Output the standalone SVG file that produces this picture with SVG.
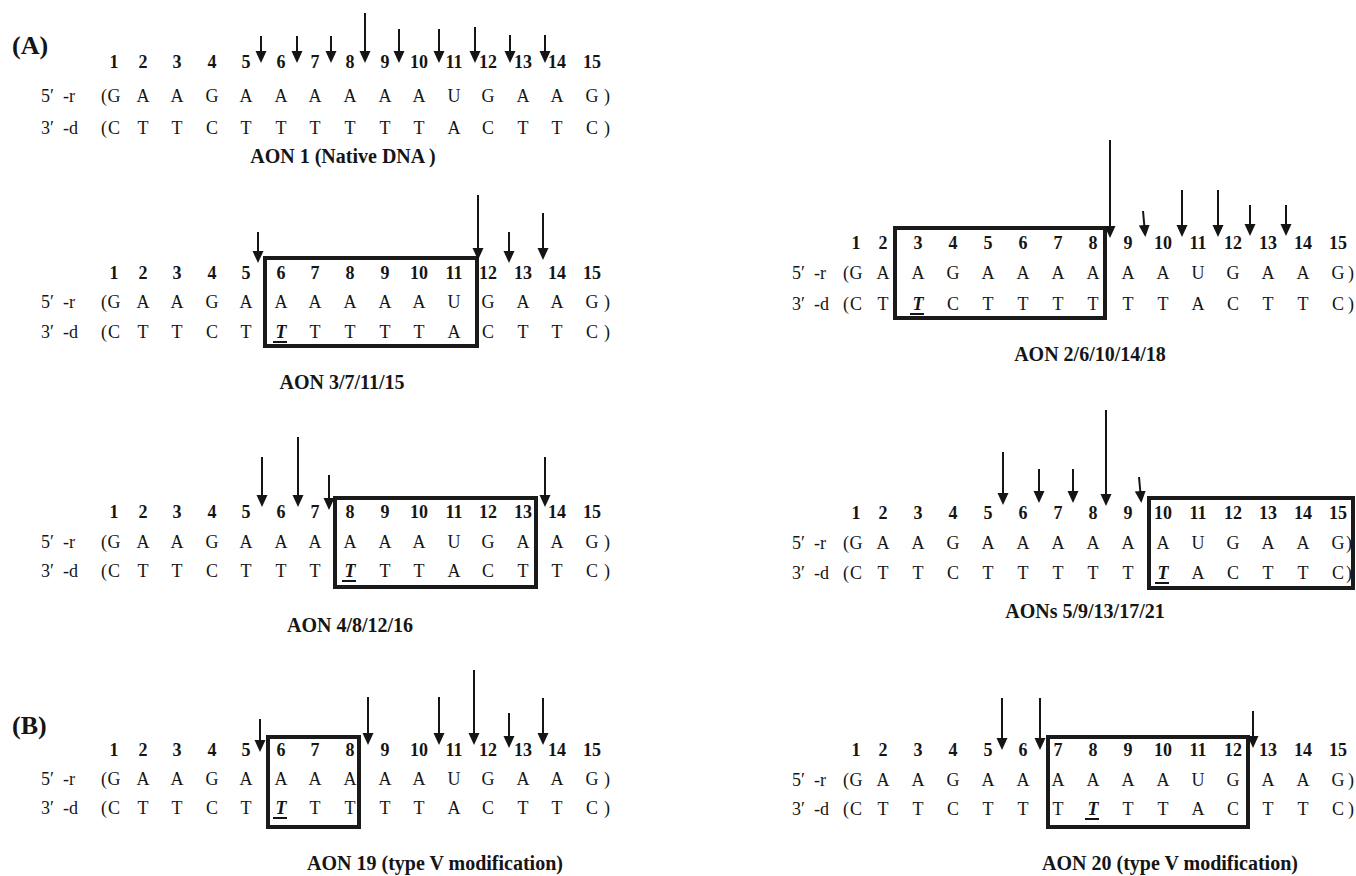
<svg xmlns="http://www.w3.org/2000/svg" width="1356" height="876" viewBox="0 0 1356 876">
<style>
text { font-family: "Liberation Serif", "Times New Roman", serif; fill: #151515; }
.n { font-size: 18px; font-weight: bold; text-anchor: middle; }
.s { font-size: 18px; text-anchor: middle; }
.lb { font-size: 18px; }
.cap { font-size: 20px; font-weight: bold; text-anchor: middle; }
.pn { font-size: 26px; font-weight: bold; }
.it { font-style: italic; font-weight: bold; }
.box { fill: none; stroke: #1a1a1a; stroke-width: 4; }
.ul { stroke: #151515; stroke-width: 2; }
.arr { stroke: #151515; stroke-width: 2; fill: none; marker-end: url(#ah); }
</style>
<defs>
<marker id="ah" viewBox="0 0 12 12" refX="8" refY="6" markerWidth="12" markerHeight="12" markerUnits="userSpaceOnUse" orient="auto">
<path d="M0,0.5 L12,6 L0,11.5 z" fill="#151515"/>
</marker>
</defs>
<rect width="1356" height="876" fill="#ffffff"/>

<text class="pn" x="12" y="54">(A)</text>
<text class="pn" x="12" y="734">(B)</text>

<!-- AON 1 -->
<g id="aon1">
<text class="n" y="68"><tspan x="114">1</tspan><tspan x="143">2</tspan><tspan x="177">3</tspan><tspan x="212">4</tspan><tspan x="246">5</tspan><tspan x="281">6</tspan><tspan x="315">7</tspan><tspan x="350">8</tspan><tspan x="385">9</tspan><tspan x="419">10</tspan><tspan x="454">11</tspan><tspan x="488">12</tspan><tspan x="523">13</tspan><tspan x="557">14</tspan><tspan x="592">15</tspan></text>
<text class="lb" x="41" y="102">5′<tspan x="63">-r</tspan></text>
<text class="lb" x="41" y="134">3′<tspan x="63">-d</tspan></text>
<text class="s" y="102" x="104 114 143 177 212 246 281 315 350 385 419 454 488 523 557 592 607">(GAAGAAAAAAUGAAG)</text>
<text class="s" y="134" x="104 114 143 177 212 246 281 315 350 385 419 454 488 523 557 592 607">(CTTCTTTTTTACTTC)</text>
<text class="cap" x="343" y="163">AON 1 (Native DNA )</text>
</g>

<!-- AON 3/7/11/15 -->
<g id="aon3">
<text class="n" y="279"><tspan x="114">1</tspan><tspan x="143">2</tspan><tspan x="177">3</tspan><tspan x="212">4</tspan><tspan x="246">5</tspan><tspan x="281">6</tspan><tspan x="315">7</tspan><tspan x="350">8</tspan><tspan x="385">9</tspan><tspan x="419">10</tspan><tspan x="454">11</tspan><tspan x="488">12</tspan><tspan x="523">13</tspan><tspan x="557">14</tspan><tspan x="592">15</tspan></text>
<text class="lb" x="41" y="308">5′<tspan x="63">-r</tspan></text>
<text class="lb" x="41" y="338">3′<tspan x="63">-d</tspan></text>
<text class="s" y="308" x="104 114 143 177 212 246 281 315 350 385 419 454 488 523 557 592 607">(GAAGAAAAAAUGAAG)</text>
<text class="s" y="338" x="104 114 143 177 212 246 281 315 350 385 419 454 488 523 557 592 607">(CTTCT<tspan class="it">T</tspan>TTTTACTTC)</text>
<line class="ul" x1="273" y1="342" x2="287" y2="342"/>
<rect class="box" x="265" y="258" width="212" height="88"/>
<text class="cap" x="342" y="389">AON 3/7/11/15</text>
</g>

<!-- AON 4/8/12/16 -->
<g id="aon4">
<text class="n" y="518"><tspan x="114">1</tspan><tspan x="143">2</tspan><tspan x="177">3</tspan><tspan x="212">4</tspan><tspan x="246">5</tspan><tspan x="281">6</tspan><tspan x="315">7</tspan><tspan x="350">8</tspan><tspan x="385">9</tspan><tspan x="419">10</tspan><tspan x="454">11</tspan><tspan x="488">12</tspan><tspan x="523">13</tspan><tspan x="557">14</tspan><tspan x="592">15</tspan></text>
<text class="lb" x="41" y="548">5′<tspan x="63">-r</tspan></text>
<text class="lb" x="41" y="577">3′<tspan x="63">-d</tspan></text>
<text class="s" y="548" x="104 114 143 177 212 246 281 315 350 385 419 454 488 523 557 592 607">(GAAGAAAAAAUGAAG)</text>
<text class="s" y="577" x="104 114 143 177 212 246 281 315 350 385 419 454 488 523 557 592 607">(CTTCTTT<tspan class="it">T</tspan>TTACTTC)</text>
<line class="ul" x1="342" y1="581" x2="356" y2="581"/>
<rect class="box" x="335" y="498" width="201" height="89"/>
<text class="cap" x="350" y="632">AON 4/8/12/16</text>
</g>

<!-- AON 19 -->
<g id="aon19">
<text class="n" y="756"><tspan x="114">1</tspan><tspan x="143">2</tspan><tspan x="177">3</tspan><tspan x="212">4</tspan><tspan x="246">5</tspan><tspan x="281">6</tspan><tspan x="315">7</tspan><tspan x="350">8</tspan><tspan x="385">9</tspan><tspan x="419">10</tspan><tspan x="454">11</tspan><tspan x="488">12</tspan><tspan x="523">13</tspan><tspan x="557">14</tspan><tspan x="592">15</tspan></text>
<text class="lb" x="41" y="785">5′<tspan x="63">-r</tspan></text>
<text class="lb" x="41" y="814">3′<tspan x="63">-d</tspan></text>
<text class="s" y="785" x="104 114 143 177 212 246 281 315 350 385 419 454 488 523 557 592 607">(GAAGAAAAAAUGAAG)</text>
<text class="s" y="814" x="104 114 143 177 212 246 281 315 350 385 419 454 488 523 557 592 607">(CTTCT<tspan class="it">T</tspan>TTTTACTTC)</text>
<line class="ul" x1="273" y1="818" x2="287" y2="818"/>
<rect class="box" x="268" y="737" width="91" height="90"/>
<text class="cap" x="435" y="870">AON 19 (type V modification)</text>
</g>

<!-- AON 2/6/10/14/18 -->
<g id="aon2">
<text class="n" y="249"><tspan x="856">1</tspan><tspan x="883">2</tspan><tspan x="918">3</tspan><tspan x="953">4</tspan><tspan x="988">5</tspan><tspan x="1023">6</tspan><tspan x="1058">7</tspan><tspan x="1093">8</tspan><tspan x="1128">9</tspan><tspan x="1163">10</tspan><tspan x="1198">11</tspan><tspan x="1233">12</tspan><tspan x="1268">13</tspan><tspan x="1303">14</tspan><tspan x="1338">15</tspan></text>
<text class="lb" x="792" y="279">5′<tspan x="814">-r</tspan></text>
<text class="lb" x="792" y="310">3′<tspan x="814">-d</tspan></text>
<text class="s" y="279" x="846 856 883 918 953 988 1023 1058 1093 1128 1163 1198 1233 1268 1303 1338 1351">(GAAGAAAAAAUGAAG)</text>
<text class="s" y="310" x="846 856 883 918 953 988 1023 1058 1093 1128 1163 1198 1233 1268 1303 1338 1351">(CT<tspan class="it">T</tspan>CTTTTTTACTTC)</text>
<line class="ul" x1="910" y1="314" x2="924" y2="314"/>
<rect class="box" x="895" y="228" width="210" height="90"/>
<text class="cap" x="1090" y="361">AON 2/6/10/14/18</text>
</g>

<!-- AONs 5/9/13/17/21 -->
<g id="aon5">
<text class="n" y="519"><tspan x="856">1</tspan><tspan x="883">2</tspan><tspan x="918">3</tspan><tspan x="953">4</tspan><tspan x="988">5</tspan><tspan x="1023">6</tspan><tspan x="1058">7</tspan><tspan x="1093">8</tspan><tspan x="1128">9</tspan><tspan x="1163">10</tspan><tspan x="1198">11</tspan><tspan x="1233">12</tspan><tspan x="1268">13</tspan><tspan x="1303">14</tspan><tspan x="1338">15</tspan></text>
<text class="lb" x="792" y="549">5′<tspan x="814">-r</tspan></text>
<text class="lb" x="792" y="579">3′<tspan x="814">-d</tspan></text>
<text class="s" y="549" x="846 856 883 918 953 988 1023 1058 1093 1128 1163 1198 1233 1268 1303 1338 1349">(GAAGAAAAAAUGAAG)</text>
<text class="s" y="579" x="846 856 883 918 953 988 1023 1058 1093 1128 1163 1198 1233 1268 1303 1338 1349">(CTTCTTTTT<tspan class="it">T</tspan>ACTTC)</text>
<line class="ul" x1="1155" y1="583" x2="1169" y2="583"/>
<rect class="box" x="1149" y="498" width="204" height="90"/>
<text class="cap" x="1085" y="618">AONs 5/9/13/17/21</text>
</g>

<!-- AON 20 -->
<g id="aon20">
<text class="n" y="756"><tspan x="856">1</tspan><tspan x="883">2</tspan><tspan x="918">3</tspan><tspan x="953">4</tspan><tspan x="988">5</tspan><tspan x="1023">6</tspan><tspan x="1058">7</tspan><tspan x="1093">8</tspan><tspan x="1128">9</tspan><tspan x="1163">10</tspan><tspan x="1198">11</tspan><tspan x="1233">12</tspan><tspan x="1268">13</tspan><tspan x="1303">14</tspan><tspan x="1338">15</tspan></text>
<text class="lb" x="792" y="786">5′<tspan x="814">-r</tspan></text>
<text class="lb" x="792" y="815">3′<tspan x="814">-d</tspan></text>
<text class="s" y="786" x="846 856 883 918 953 988 1023 1058 1093 1128 1163 1198 1233 1268 1303 1338 1351">(GAAGAAAAAAUGAAG)</text>
<text class="s" y="815" x="846 856 883 918 953 988 1023 1058 1093 1128 1163 1198 1233 1268 1303 1338 1351">(CTTCTTT<tspan class="it">T</tspan>TTACTTC)</text>
<line class="ul" x1="1085" y1="819" x2="1099" y2="819"/>
<rect class="box" x="1048" y="737" width="200" height="90"/>
<text class="cap" x="1170" y="870">AON 20 (type V modification)</text>
</g>

<g id="connectors">
<!-- AON 1 -->
<line class="arr" x1="261" y1="36" x2="261" y2="59"/>
<line class="arr" x1="297" y1="36" x2="297" y2="59"/>
<line class="arr" x1="331" y1="36" x2="331" y2="59"/>
<line class="arr" x1="365" y1="13" x2="365" y2="59"/>
<line class="arr" x1="399" y1="29" x2="399" y2="59"/>
<line class="arr" x1="439" y1="29" x2="439" y2="59"/>
<line class="arr" x1="475" y1="27" x2="475" y2="59"/>
<line class="arr" x1="510" y1="35" x2="510" y2="59"/>
<line class="arr" x1="545" y1="35" x2="545" y2="59"/>
<!-- AON 3 -->
<line class="arr" x1="258" y1="232" x2="258" y2="259"/>
<line class="arr" x1="478" y1="195" x2="478" y2="256"/>
<line class="arr" x1="509" y1="232" x2="509" y2="259"/>
<line class="arr" x1="543" y1="213" x2="543" y2="256"/>
<!-- AON 4 -->
<line class="arr" x1="262" y1="457" x2="262" y2="503"/>
<line class="arr" x1="298" y1="437" x2="298" y2="503"/>
<line class="arr" x1="329" y1="475" x2="329" y2="506"/>
<line class="arr" x1="545" y1="457" x2="545" y2="503"/>
<!-- AON 19 -->
<line class="arr" x1="260" y1="719" x2="260" y2="748"/>
<line class="arr" x1="368" y1="697" x2="368" y2="741"/>
<line class="arr" x1="439" y1="697" x2="439" y2="741"/>
<line class="arr" x1="474" y1="670" x2="474" y2="741"/>
<line class="arr" x1="509" y1="713" x2="509" y2="744"/>
<line class="arr" x1="543" y1="698" x2="543" y2="741"/>
<!-- AON 2 -->
<line class="arr" x1="1110" y1="140" x2="1110" y2="234"/>
<line class="arr" x1="1143" y1="211" x2="1145" y2="233"/>
<line class="arr" x1="1182" y1="190" x2="1182" y2="233"/>
<line class="arr" x1="1218" y1="190" x2="1218" y2="233"/>
<line class="arr" x1="1250" y1="205" x2="1250" y2="232"/>
<line class="arr" x1="1286" y1="205" x2="1286" y2="232"/>
<!-- AON 5 -->
<line class="arr" x1="1003" y1="452" x2="1003" y2="501"/>
<line class="arr" x1="1039" y1="469" x2="1039" y2="499"/>
<line class="arr" x1="1073" y1="469" x2="1073" y2="499"/>
<line class="arr" x1="1106" y1="410" x2="1106" y2="502"/>
<line class="arr" x1="1139" y1="477" x2="1141" y2="499"/>
<!-- AON 20 -->
<line class="arr" x1="1002" y1="698" x2="1002" y2="746"/>
<line class="arr" x1="1040" y1="698" x2="1040" y2="746"/>
<line class="arr" x1="1253" y1="711" x2="1253" y2="744"/>
</g>
</svg>
